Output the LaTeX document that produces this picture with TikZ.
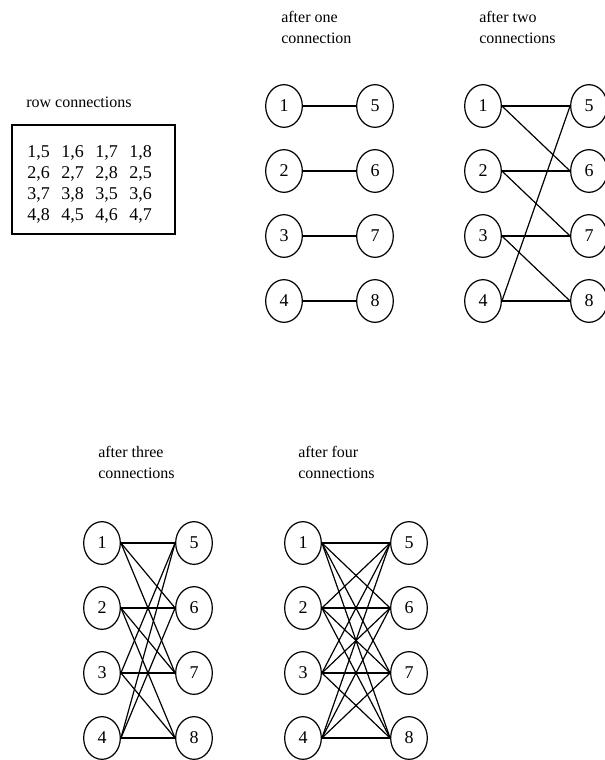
\documentclass[tikz,border=0pt]{standalone}
\usepackage{fontspec}
\setmainfont{Liberation Serif}
\usetikzlibrary{shapes.geometric}

\tikzset{
  vtx/.style={draw, ellipse, line width=0.9pt, minimum width=27.5pt, minimum height=32pt, inner sep=0pt, font=\fontsize{13.5}{16}\selectfont},
  caption/.style={anchor=north west, inner sep=0.75pt, align=left, font=\fontsize{12}{15.4}\selectfont},
  link/.style={line width=0.9pt}
}

% one bipartite graph: #1 name, #2 left x, #3 right x, #4 top y, #5 connections per row
\newcommand{\rowgraph}[5]{%
  \foreach \i in {1,...,4}{
    \pgfmathtruncatemacro{\k}{\i+4}
    \node[vtx] (#1-\i) at (#2,{#4+65*(\i-1)}) {\i};
    \node[vtx] (#1-\k) at (#3,{#4+65*(\i-1)}) {\k};
  }
  \foreach \r [count=\i] in {{5,6,7,8},{6,7,8,5},{7,8,5,6},{8,5,6,7}}{
    \foreach \t [count=\j] in \r{
      \ifnum\j>#5\relax\else
        \draw[link] (#1-\i.east) -- (#1-\t.west);
      \fi
    }
  }
}

\begin{document}
\begin{tikzpicture}[x=0.75pt,y=0.75pt,yscale=-1,xscale=1]
  \useasboundingbox (0,0) rectangle (605,760);

  % Text Node
  \node[caption] (rowlbl) at (25,96) {row connections};
  % table of row connections
  \draw[line width=0.9pt] (12,125) rectangle (175,234);
  \foreach \r [count=\i] in {{5,6,7,8},{6,7,8,5},{7,8,5,6},{8,5,6,7}}{
    \foreach \t [count=\j] in \r{
      \node[anchor=base west, inner sep=0pt, font=\fontsize{13.5}{16}\selectfont]
        (rc-\i-\j) at ({27+34*(\j-1)},{157+21.2*(\i-1)}) {\i,\t};
    }
  }

  % Text Node
  \node[caption] (lblone) at (280,10) {after one\\connection};
  % Text Node
  \node[caption] (lbltwo) at (478,10) {after two\\connections};
  % Text Node
  \node[caption] (lblthree) at (97,445) {after three\\connections};
  % Text Node
  \node[caption] (lblfour) at (297,445) {after four\\connections};

  \rowgraph{ga}{284}{375}{106}{1}
  \rowgraph{gb}{483}{589}{106}{2}
  \rowgraph{gc}{102}{194}{543}{3}
  \rowgraph{gd}{303}{409}{543}{4}
\end{tikzpicture}
\end{document}
